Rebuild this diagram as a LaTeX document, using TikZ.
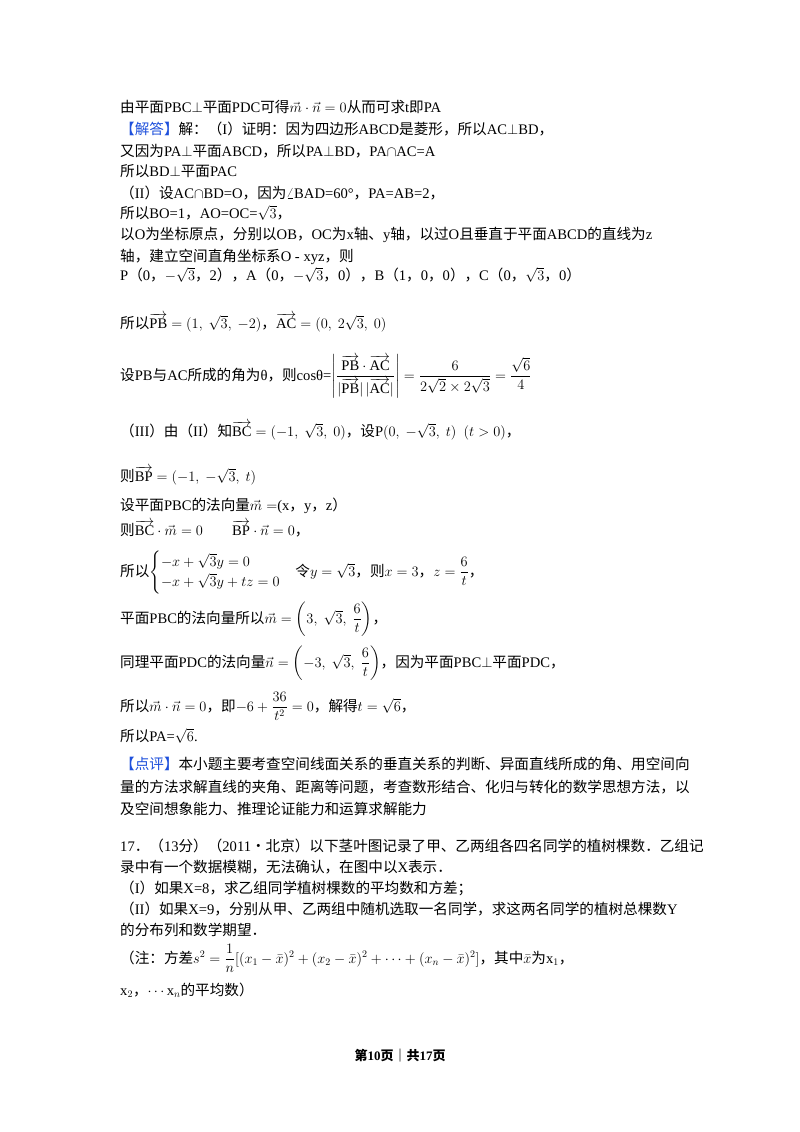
\documentclass[tikz,border=0pt]{standalone}
\usepackage{fontspec}
\usepackage{amsmath}
\setmainfont{Liberation Serif}
\newfontfamily\cjk{Noto Sans CJK SC}
\definecolor{ansblue}{RGB}{30,80,220}
\newcommand{\vv}[1]{\overrightarrow{\mathrm{#1}}}
\newcommand{\C}[1]{{\cjk #1}}
\begin{document}
\begin{tikzpicture}[x=1pt,y=-1pt,
  ln/.style={anchor=base west,inner sep=0pt,font=\fontsize{14.6}{17}\selectfont},
  foot/.style={anchor=base,inner sep=0pt,font=\fontsize{13}{16}\selectfont\bfseries}]
\useasboundingbox[fill=white] (0,0) rectangle (800,1132);
\node[ln] (l1) at (120,112) {\C{由平面}PBC$\perp$\C{平面}PDC\C{可得}$\vec{m}\cdot\vec{n}=0$\C{从而可求}t\C{即}PA};
\node[ln] (l2) at (120,134) {\textcolor{ansblue}{\C{【解答】}}\C{解：（}I\C{）证明：因为四边形}ABCD\C{是菱形，所以}AC$\perp$BD\C{，}};
\node[ln] (l3) at (120,156) {\C{又因为}PA$\perp$\C{平面}ABCD\C{，所以}PA$\perp$BD\C{，}PA$\cap$AC=A};
\node[ln] (l4) at (120,176) {\C{所以}BD$\perp$\C{平面}PAC};
\node[ln] (l5) at (120,198) {\C{（}II\C{）设}AC$\cap$BD=O\C{，因为}$\angle$BAD=60°\C{，}PA=AB=2\C{，}};
\node[ln] (l6) at (120,218) {\C{所以}BO=1\C{，}AO=OC=$\sqrt{3}$\C{，}};
\node[ln] (l7) at (120,239) {\C{以}O\C{为坐标原点，分别以}OB\C{，}OC\C{为}x\C{轴、}y\C{轴，以过}O\C{且垂直于平面}ABCD\C{的直线为}z};
\node[ln] (l8) at (120,261) {\C{轴，建立空间直角坐标系}O - xyz\C{，则}};
\node[ln] (l9) at (120,280) {P\C{（}0\C{，}$-\sqrt{3}$\C{，}2\C{），}A\C{（}0\C{，}$-\sqrt{3}$\C{，}0\C{），}B\C{（}1\C{，}0\C{，}0\C{），}C\C{（}0\C{，}$\sqrt{3}$\C{，}0\C{）}};
\node[ln] (l10) at (120,328) {\C{所以}$\vv{PB}=(1,\ \sqrt{3},\ -2)$\C{，}$\vv{AC}=(0,\ 2\sqrt{3},\ 0)$};
\node[ln] (l11) at (120,380) {\C{设}PB\C{与}AC\C{所成的角为}θ\C{，则}cosθ=$\left|\dfrac{\vv{PB}\cdot\vv{AC}}{|\vv{PB}|\,|\vv{AC}|}\right|=\dfrac{6}{2\sqrt{2}\times2\sqrt{3}}=\dfrac{\sqrt{6}}{4}$};
\node[ln] (l12) at (120,436) {\C{（}III\C{）由（}II\C{）知}$\vv{BC}=(-1,\ \sqrt{3},\ 0)$\C{，设}P$(0,\ -\sqrt{3},\ t)\ \ (t>0)$\C{，}};
\node[ln] (l13) at (120,481) {\C{则}$\vv{BP}=(-1,\ -\sqrt{3},\ t)$};
\node[ln] (l14) at (120,510) {\C{设平面}PBC\C{的法向量}$\vec{m}=$(x\C{，}y\C{，}z\C{）}};
\node[ln] (l15) at (120,535) {\C{则}$\vv{BC}\cdot\vec{m}=0\qquad\vv{BP}\cdot\vec{n}=0$\C{，}};
\node[ln] (l16) at (120,576) {\C{所以}$\begin{cases}-x+\sqrt{3}y=0\\ -x+\sqrt{3}y+tz=0\end{cases}$\C{令}$y=\sqrt{3}$\C{，则}$x=3$\C{，}$z=\dfrac{6}{t}$\C{，}};
\node[ln] (l17) at (120,623) {\C{平面}PBC\C{的法向量所以}$\vec{m}=\left(3,\ \sqrt{3},\ \dfrac{6}{t}\right)$\C{，}};
\node[ln] (l18) at (120,667) {\C{同理平面}PDC\C{的法向量}$\vec{n}=\left(-3,\ \sqrt{3},\ \dfrac{6}{t}\right)$\C{，因为平面}PBC$\perp$\C{平面}PDC\C{，}};
\node[ln] (l19) at (120,711) {\C{所以}$\vec{m}\cdot\vec{n}=0$\C{，即}$-6+\dfrac{36}{t^2}=0$\C{，解得}$t=\sqrt{6}$\C{，}};
\node[ln] (l20) at (120,741) {\C{所以}PA=$\sqrt{6}$.};
\node[ln] (l21) at (120,769) {\textcolor{ansblue}{\C{【点评】}}\C{本小题主要考查空间线面关系的垂直关系的判断、异面直线所成的角、用空间向}};
\node[ln] (l22) at (120,792) {\C{量的方法求解直线的夹角、距离等问题，考查数形结合、化归与转化的数学思想方法，以}};
\node[ln] (l23) at (120,814) {\C{及空间想象能力、推理论证能力和运算求解能力}};
\node[ln] (l24) at (120,851) {17\C{．（}13\C{分）（}2011\C{•北京）以下茎叶图记录了甲、乙两组各四名同学的植树棵数．乙组记}};
\node[ln] (l25) at (120,872) {\C{录中有一个数据模糊，无法确认，在图中以}X\C{表示．}};
\node[ln] (l26) at (120,893) {\C{（}I\C{）如果}X=8\C{，求乙组同学植树棵数的平均数和方差；}};
\node[ln] (l27) at (120,914) {\C{（}II\C{）如果}X=9\C{，分别从甲、乙两组中随机选取一名同学，求这两名同学的植树总棵数}Y};
\node[ln] (l28) at (120,935) {\C{的分布列和数学期望．}};
\node[ln] (l30) at (120,963) {\C{（注：方差}$s^2=\dfrac{1}{n}[(x_1-\bar{x})^2+(x_2-\bar{x})^2+\cdots+(x_n-\bar{x})^2]$\C{，其中}$\bar{x}$\C{为}x$_1$\C{，}};
\node[ln] (l31) at (120,995) {x$_2$\C{，}$\cdots$x$_n$\C{的平均数）}};
\node[foot] (ft) at (400,1060) {\C{第}10\C{页｜共}17\C{页}};
\end{tikzpicture}
\end{document}
